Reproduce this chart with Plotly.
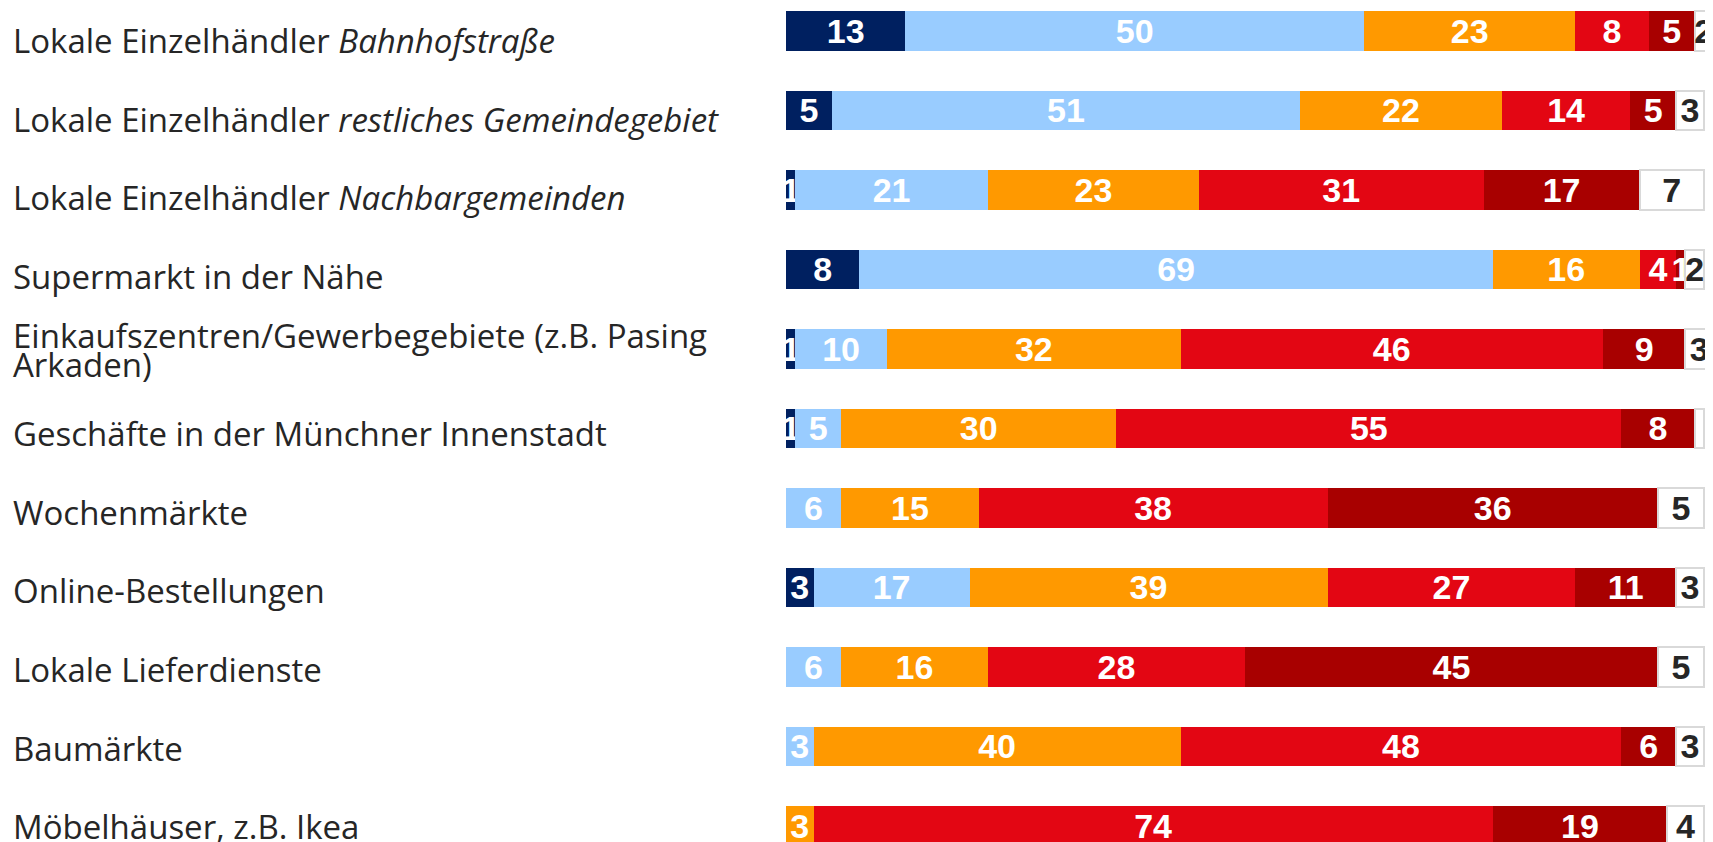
import plotly.graph_objects as go

categories = [
    "Lokale Einzelhändler <i>Bahnhofstraße</i>",
    "Lokale Einzelhändler <i>restliches Gemeindegebiet</i>",
    "Lokale Einzelhändler <i>Nachbargemeinden</i>",
    "Supermarkt in der Nähe",
    "Einkaufszentren/Gewerbegebiete (z.B. Pasing<br>Arkaden)",
    "Geschäfte in der Münchner Innenstadt",
    "Wochenmärkte",
    "Online-Bestellungen",
    "Lokale Lieferdienste",
    "Baumärkte",
    "Möbelhäuser, z.B. Ikea",
]

s1 = [13, 5, 1, 8, 1, 1, 0, 3, 0, 0, 0]
s2 = [50, 51, 21, 69, 10, 5, 6, 17, 6, 3, 0]
s3 = [23, 22, 23, 16, 32, 30, 15, 39, 16, 40, 3]
s4 = [8, 14, 31, 4, 46, 55, 38, 27, 28, 48, 74]
s5 = [5, 5, 17, 1, 9, 8, 36, 11, 45, 6, 19]
s6 = [2, 3, 7, 2, 3, 1, 5, 3, 5, 3, 4]
s6_labels = ["2", "3", "7", "2", "3", "", "5", "3", "5", "3", "4"]

series = [
    (s1, "#002060", None),
    (s2, "#99CCFF", None),
    (s3, "#FF9900", None),
    (s4, "#E30613", None),
    (s5, "#A80000", None),
    (s6, "#FFFFFF", s6_labels),
]

W, H = 1713, 842
body = 8                      # default page margin of the html body
left = 786 - body
px_per_unit = 9.178
bar_c0, bar_pitch, bar_h = 30.75 - body, 79.5, 39.5
y_top = -bar_c0 / bar_pitch
y_bot = (H - bar_c0) / bar_pitch
x_max = (W - left) / px_per_unit

ypos = list(range(len(categories)))

fig = go.Figure()
for vals, col, labels in series:
    if labels is None:
        labels = [str(v) if v > 0 else "" for v in vals]
    is_white = col == "#FFFFFF"
    fig.add_trace(go.Bar(
        x=vals, y=ypos, orientation="h",
        width=bar_h / bar_pitch,
        marker=dict(color=col,
                    line=dict(color="#D9D9D9" if is_white else col, width=2 if is_white else 0)),
        text=labels, textposition="inside", insidetextanchor="middle",
        textangle=0,
        textfont=dict(family="Liberation Sans, Arial, sans-serif", size=34,
                      color="#262626" if is_white else "#FFFFFF", weight="bold"),
        showlegend=False, hoverinfo="skip",
    ))

fig.update_layout(
    width=W, height=H,
    margin=dict(l=left, r=0, t=0, b=0),
    barmode="stack",
    plot_bgcolor="white", paper_bgcolor="white",
    uniformtext=dict(minsize=34, mode="show"),
    xaxis=dict(range=[0, x_max], visible=False, fixedrange=True),
    yaxis=dict(range=[y_bot, y_top], visible=False, fixedrange=True),
)

# category labels, left aligned
label_c0, label_pitch = 40.4 - body, 78.65
plot_w = W - left
x_paper = -(left - 3) / plot_w
for i, cat in enumerate(categories):
    lines = cat.split("<br>")
    c = label_c0 + label_pitch * i
    offs = [0] if len(lines) == 1 else [-19, 9]
    for ln, off in zip(lines, offs):
        fig.add_annotation(
            x=x_paper, xref="paper", xanchor="left",
            y=1 - (c + off) / H, yref="paper", yanchor="middle",
            text=ln, showarrow=False, align="left",
            font=dict(family="Open Sans, sans-serif", size=33, color="#262626"),
        )

fig.write_html("out.html")
